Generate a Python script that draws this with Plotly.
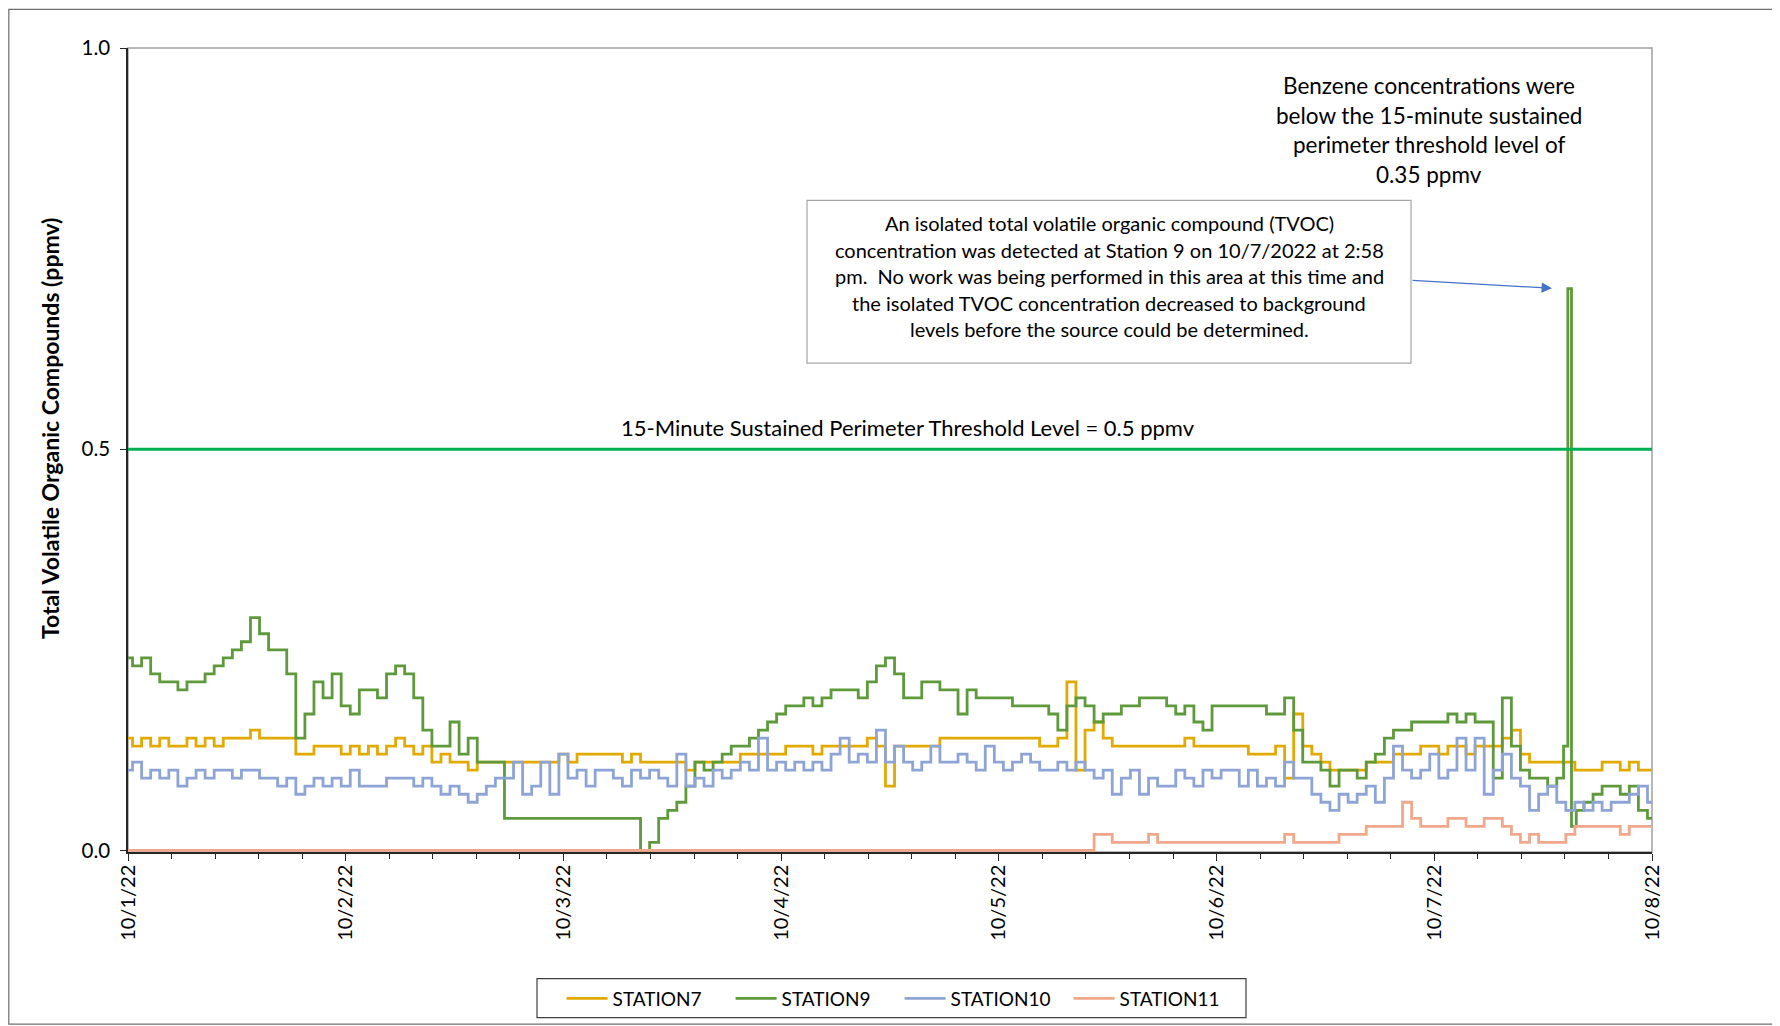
import pandas as pd
import plotly.graph_objects as go

# ---------------- data (hourly readings, 10/1/22 00:00 -> 10/8/22 00:00) ----------------
START = "2022-10-01 00:00"
N_HOURS = 169

STATION7 = [
    0.14, 0.13, 0.14, 0.13, 0.14, 0.13, 0.13, 0.14, 0.13, 0.14, 0.13, 0.14, 0.14, 0.14, 0.15,
    0.14, 0.14, 0.14, 0.14, 0.12, 0.12, 0.13, 0.13, 0.13, 0.12, 0.13, 0.12, 0.13, 0.12,
    0.13, 0.14, 0.13, 0.12, 0.13, 0.11, 0.12, 0.11, 0.11, 0.10, 0.11, 0.11, 0.11, 0.11,
    0.11, 0.11, 0.11, 0.11, 0.11, 0.12, 0.11, 0.12, 0.12, 0.12, 0.12, 0.12, 0.11, 0.12,
    0.11, 0.11, 0.11, 0.11, 0.11, 0.10, 0.11, 0.11, 0.11, 0.11, 0.11, 0.12, 0.12, 0.12,
    0.12, 0.12, 0.13, 0.13, 0.13, 0.12, 0.13, 0.13, 0.13, 0.13, 0.13, 0.14, 0.13, 0.08,
    0.13, 0.13, 0.13, 0.13, 0.13, 0.14, 0.14, 0.14, 0.14, 0.14, 0.14, 0.14, 0.14, 0.14,
    0.14, 0.14, 0.13, 0.13, 0.14, 0.21, 0.10, 0.15, 0.16, 0.14, 0.13, 0.13, 0.13, 0.13,
    0.13, 0.13, 0.13, 0.13, 0.14, 0.13, 0.13, 0.13, 0.13, 0.13, 0.13, 0.12, 0.12, 0.12,
    0.13, 0.09, 0.17, 0.13, 0.12, 0.11, 0.10, 0.10, 0.10, 0.10, 0.11, 0.11, 0.11, 0.12,
    0.12, 0.12, 0.13, 0.13, 0.12, 0.13, 0.13, 0.12, 0.13, 0.13, 0.13, 0.14, 0.15, 0.12,
    0.11, 0.11, 0.11, 0.11, 0.11, 0.10, 0.10, 0.10, 0.11, 0.11, 0.10, 0.11, 0.10, 0.10,
]

# None at hour 159: that hour is covered by the spike readings below
STATION9 = [
    0.24, 0.23, 0.24, 0.22, 0.21, 0.21, 0.20, 0.21, 0.21, 0.22, 0.23, 0.24, 0.25, 0.26, 0.29,
    0.27, 0.25, 0.25, 0.22, 0.14, 0.17, 0.21, 0.19, 0.22, 0.18, 0.17, 0.20, 0.20, 0.19,
    0.22, 0.23, 0.22, 0.19, 0.15, 0.13, 0.13, 0.16, 0.12, 0.14, 0.11, 0.11, 0.11, 0.04,
    0.04, 0.04, 0.04, 0.04, 0.04, 0.04, 0.04, 0.04, 0.04, 0.04, 0.04, 0.04, 0.04, 0.04,
    0.00, 0.01, 0.04, 0.05, 0.06, 0.08, 0.11, 0.10, 0.11, 0.12, 0.13, 0.13, 0.14, 0.15,
    0.16, 0.17, 0.18, 0.18, 0.19, 0.18, 0.19, 0.20, 0.20, 0.20, 0.19, 0.21, 0.23, 0.24,
    0.22, 0.19, 0.19, 0.21, 0.21, 0.20, 0.20, 0.17, 0.20, 0.19, 0.19, 0.19, 0.19, 0.18,
    0.18, 0.18, 0.18, 0.17, 0.15, 0.18, 0.19, 0.18, 0.16, 0.17, 0.17, 0.18, 0.18, 0.19,
    0.19, 0.19, 0.18, 0.17, 0.18, 0.16, 0.15, 0.18, 0.18, 0.18, 0.18, 0.18, 0.18, 0.17,
    0.17, 0.19, 0.15, 0.11, 0.11, 0.10, 0.08, 0.10, 0.10, 0.09, 0.11, 0.12, 0.14, 0.15,
    0.15, 0.16, 0.16, 0.16, 0.16, 0.17, 0.16, 0.17, 0.16, 0.16, 0.09, 0.19, 0.13, 0.10,
    0.09, 0.09, 0.08, 0.09, None, 0.05, 0.06, 0.07, 0.08, 0.08, 0.07, 0.08, 0.05, 0.04,
]
STATION9_SPIKE_TIMES = ["2022-10-07 14:30", "2022-10-07 14:57", "2022-10-07 15:18"]
STATION9_SPIKE_VALUES = [0.13, 0.70, 0.03]

STATION10 = [
    0.10, 0.11, 0.09, 0.10, 0.09, 0.10, 0.08, 0.09, 0.10, 0.09, 0.10, 0.10, 0.09, 0.10, 0.10,
    0.09, 0.09, 0.08, 0.09, 0.07, 0.08, 0.09, 0.08, 0.09, 0.08, 0.10, 0.08, 0.08, 0.08,
    0.09, 0.09, 0.09, 0.08, 0.09, 0.08, 0.07, 0.08, 0.07, 0.06, 0.07, 0.08, 0.09, 0.09,
    0.11, 0.07, 0.08, 0.11, 0.07, 0.12, 0.09, 0.10, 0.08, 0.10, 0.10, 0.09, 0.08, 0.10,
    0.09, 0.10, 0.09, 0.08, 0.12, 0.08, 0.09, 0.08, 0.10, 0.09, 0.10, 0.11, 0.10, 0.14,
    0.10, 0.11, 0.10, 0.11, 0.10, 0.11, 0.10, 0.12, 0.14, 0.11, 0.12, 0.11, 0.15, 0.11,
    0.13, 0.11, 0.10, 0.11, 0.13, 0.11, 0.11, 0.12, 0.11, 0.10, 0.13, 0.11, 0.10, 0.11,
    0.12, 0.11, 0.10, 0.10, 0.11, 0.10, 0.11, 0.10, 0.09, 0.10, 0.07, 0.09, 0.10, 0.07,
    0.09, 0.08, 0.08, 0.10, 0.09, 0.08, 0.10, 0.09, 0.10, 0.10, 0.08, 0.10, 0.08, 0.09,
    0.08, 0.11, 0.09, 0.09, 0.07, 0.06, 0.05, 0.07, 0.06, 0.07, 0.08, 0.06, 0.09, 0.13,
    0.10, 0.09, 0.10, 0.12, 0.09, 0.10, 0.14, 0.10, 0.14, 0.07, 0.10, 0.12, 0.09, 0.08,
    0.05, 0.07, 0.08, 0.06, 0.05, 0.06, 0.05, 0.06, 0.05, 0.06, 0.06, 0.07, 0.08, 0.06,
]

STATION11 = [
    0.00, 0.00, 0.00, 0.00, 0.00, 0.00, 0.00, 0.00, 0.00, 0.00, 0.00, 0.00, 0.00, 0.00, 0.00,
    0.00, 0.00, 0.00, 0.00, 0.00, 0.00, 0.00, 0.00, 0.00, 0.00, 0.00, 0.00, 0.00, 0.00,
    0.00, 0.00, 0.00, 0.00, 0.00, 0.00, 0.00, 0.00, 0.00, 0.00, 0.00, 0.00, 0.00, 0.00,
    0.00, 0.00, 0.00, 0.00, 0.00, 0.00, 0.00, 0.00, 0.00, 0.00, 0.00, 0.00, 0.00, 0.00,
    0.00, 0.00, 0.00, 0.00, 0.00, 0.00, 0.00, 0.00, 0.00, 0.00, 0.00, 0.00, 0.00, 0.00,
    0.00, 0.00, 0.00, 0.00, 0.00, 0.00, 0.00, 0.00, 0.00, 0.00, 0.00, 0.00, 0.00, 0.00,
    0.00, 0.00, 0.00, 0.00, 0.00, 0.00, 0.00, 0.00, 0.00, 0.00, 0.00, 0.00, 0.00, 0.00,
    0.00, 0.00, 0.00, 0.00, 0.00, 0.00, 0.00, 0.00, 0.02, 0.02, 0.01, 0.01, 0.01, 0.01,
    0.02, 0.01, 0.01, 0.01, 0.01, 0.01, 0.01, 0.01, 0.01, 0.01, 0.01, 0.01, 0.01, 0.01,
    0.01, 0.02, 0.01, 0.01, 0.01, 0.01, 0.01, 0.02, 0.02, 0.02, 0.03, 0.03, 0.03, 0.03,
    0.06, 0.04, 0.03, 0.03, 0.03, 0.04, 0.04, 0.03, 0.03, 0.04, 0.04, 0.03, 0.02, 0.01,
    0.02, 0.01, 0.01, 0.01, 0.02, 0.03, 0.03, 0.03, 0.03, 0.03, 0.02, 0.03, 0.03, 0.03,
]

SERIES_NAMES = ["STATION7", "STATION9", "STATION10", "STATION11"]
SERIES_COLORS = ["#E2AA00", "#5E9A3B", "#8FA4D6", "#F2A78A"]

Y_TICKS = [0.0, 0.5, 1.0]
Y_TICK_TEXT = ["0.0", "0.5", "1.0"]
THRESHOLD = 0.5
THRESHOLD_LABEL = "15-Minute Sustained Perimeter Threshold Level = 0.5 ppmv"
Y_TITLE = "Total Volatile Organic Compounds (ppmv)"
BOX_LINES = [
    "An isolated total volatile organic compound (TVOC)",
    "concentration was detected at Station 9 on 10/7/2022 at 2:58",
    "pm.  No work was being performed in this area at this time and",
    "the isolated TVOC concentration decreased to background",
    "levels before the source could be determined.",
]
BENZENE_LINES = [
    "Benzene concentrations were",
    "below the 15-minute sustained",
    "perimeter threshold level of",
    "0.35 ppmv",
]
X_START, X_END = "2022-10-01", "2022-10-08"
Y_MIN, Y_MAX = -0.002, 1.0

# ---------------- figure ----------------
hours = pd.date_range(START, periods=N_HOURS, freq="h")
for s in (STATION7, STATION9, STATION10, STATION11):
    assert len(s) == N_HOURS, len(s)

s9 = pd.Series(STATION9, index=hours, dtype="float").dropna()
s9 = pd.concat([s9, pd.Series(STATION9_SPIKE_VALUES,
                              index=pd.to_datetime(STATION9_SPIKE_TIMES))]).sort_index()

FONT = "Lato"
OFF = 8                      # page body margin of the html page
W, H = 1780 - OFF, 1026 - OFF
PAGE_L, PAGE_R, PAGE_T, PAGE_B = 128, 1652, 47.5, 852.3   # plot area in page pixels
L, T = PAGE_L - OFF, PAGE_T - OFF
R, B = W - (PAGE_R - OFF), H - (PAGE_B - OFF)
PW, PH = PAGE_R - PAGE_L, PAGE_B - PAGE_T


def px_x(x):
    return (x - PAGE_L) / PW


def px_y(y):
    return (PAGE_B - y) / PH


fig = go.Figure()
data = [
    (hours, STATION7),
    (s9.index, s9.values),
    (hours, STATION10),
    (hours, STATION11),
]
for (xs, ys), name, col in zip(data, SERIES_NAMES, SERIES_COLORS):
    fig.add_trace(go.Scatter(x=xs, y=ys, mode="lines", name=name,
                             line=dict(color=col, width=2.8, shape="hvh")))

# threshold line
fig.add_shape(type="line", xref="paper", yref="y", x0=0, x1=1, y0=THRESHOLD, y1=THRESHOLD,
              line=dict(color="#00B050", width=3), layer="above")
fig.add_annotation(xref="paper", yref="paper", x=px_x(908), y=px_y(427),
                   xanchor="center", yanchor="middle",
                   text=THRESHOLD_LABEL, showarrow=False,
                   font=dict(family=FONT, size=22, color="#000000"))

# plot-area border (gray) and outer chart border
fig.add_shape(type="rect", xref="paper", yref="paper", x0=0, x1=1, y0=0, y1=1,
              line=dict(color="#A0A0A0", width=1.5), layer="below")
fig.add_shape(type="rect", xref="paper", yref="paper",
              x0=px_x(OFF + 0.8), x1=px_x(1776.5), y0=px_y(1024.5), y1=px_y(OFF + 0.8),
              line=dict(color="#6E6E6E", width=1.2))

# explanatory box
fig.add_shape(type="rect", xref="paper", yref="paper",
              x0=px_x(807), x1=px_x(1411), y0=px_y(363), y1=px_y(200),
              line=dict(color="#A6A6A6", width=1.2), fillcolor="white")
for i, line in enumerate(BOX_LINES):
    fig.add_annotation(xref="paper", yref="paper", x=px_x(1109), y=px_y(223 + i * 26.5),
                       xanchor="center", yanchor="middle",
                       text=line, showarrow=False,
                       font=dict(family=FONT, size=20, color="#000000"))
# arrow from box to spike
fig.add_annotation(xref="paper", yref="paper", x=px_x(1552), y=px_y(288),
                   ax=1411 - 1552, ay=280 - 288, axref="pixel", ayref="pixel",
                   text="", showarrow=True, arrowhead=2, arrowsize=1.6, arrowwidth=1.3,
                   arrowcolor="#4472C4", standoff=0)

for i, line in enumerate(BENZENE_LINES):
    fig.add_annotation(xref="paper", yref="paper", x=px_x(1429), y=px_y(85 + i * 29.6),
                       xanchor="center", yanchor="middle",
                       text=line, showarrow=False,
                       font=dict(family=FONT, size=22.5, color="#000000"))

# y-axis title
fig.add_annotation(xref="paper", yref="paper", x=px_x(50), y=px_y(428), textangle=-90,
                   xanchor="center", yanchor="middle",
                   text="<b>" + Y_TITLE + "</b>", showarrow=False,
                   font=dict(family=FONT, size=23, color="#000000"))

# legend frame
fig.add_shape(type="rect", xref="paper", yref="paper",
              x0=px_x(537), x1=px_x(1246), y0=px_y(1018), y1=px_y(979),
              line=dict(color="#404040", width=1.2), fillcolor="white", layer="below")

fig.update_xaxes(type="date", range=[X_START, X_END], dtick=86400000, tick0=X_START,
                 tickformat="%-m/%-d/%y", tickangle=-90, ticks="outside", ticklen=7,
                 tickwidth=1.3, tickcolor="#262626", ticklabelstandoff=-4,
                 minor=dict(dtick=17280000, tick0=X_START, ticks="outside", ticklen=5,
                            tickcolor="#262626", tickwidth=1.2, showgrid=False),
                 showline=True, linecolor="#262626", linewidth=1.5, showgrid=False,
                 zeroline=False, layer="below traces", automargin=False,
                 tickfont=dict(family=FONT, size=20, color="#000000"))
fig.update_yaxes(range=[Y_MIN, Y_MAX], tickvals=Y_TICKS, ticktext=Y_TICK_TEXT, ticks="outside",
                 ticklen=6, tickwidth=1.3, tickcolor="#262626", showline=True,
                 linecolor="#262626", linewidth=1.5, showgrid=False, zeroline=False,
                 layer="below traces", ticklabelstandoff=6, automargin=False,
                 tickfont=dict(family=FONT, size=20.5, color="#000000"))

fig.update_layout(
    width=W, height=H, autosize=False,
    margin=dict(l=L, r=R, t=T, b=B, autoexpand=False),
    paper_bgcolor="white", plot_bgcolor="white",
    font=dict(family=FONT, size=19, color="#000000"),
    showlegend=True,
    legend=dict(orientation="h", x=px_x(561.6), xanchor="left", y=px_y(999), yanchor="middle",
                borderwidth=0, bgcolor="rgba(0,0,0,0)",
                font=dict(family=FONT, size=19, color="#000000"),
                itemwidth=41, entrywidth=113, entrywidthmode="pixels"),
)

fig.write_html("out.html")
